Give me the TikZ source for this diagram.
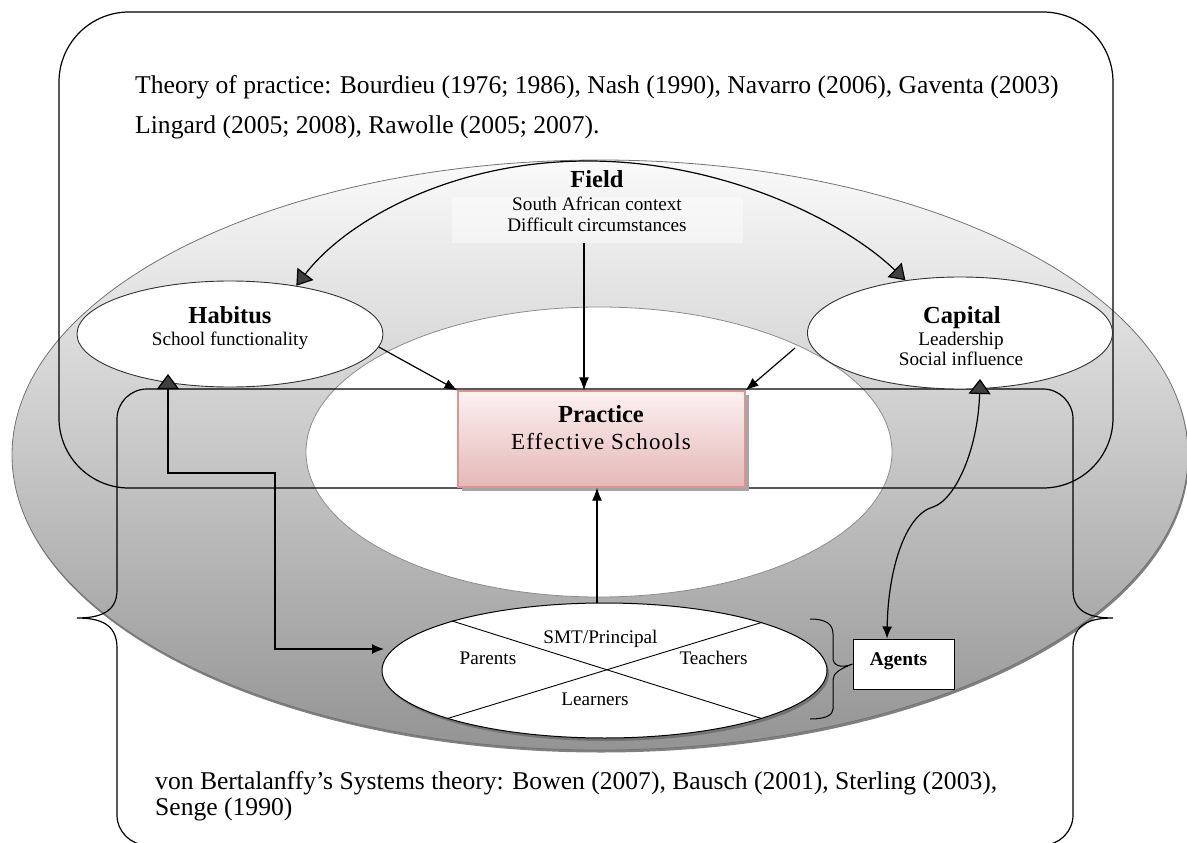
\documentclass[tikz,border=0pt]{standalone}
\usepackage{fontspec}
\setmainfont{Liberation Serif}
\usetikzlibrary{shapes.geometric,arrows.meta}
\definecolor{pinktop}{HTML}{FCF1F1}
\definecolor{pinkbot}{HTML}{E5B8B7}
\definecolor{pinkline}{HTML}{D99694}
\newcommand\fBig{\fontsize{25.6}{30}\selectfont}
\newcommand\fTitle{\fontsize{24.5}{28}\selectfont\bfseries}
\newcommand\fSmall{\fontsize{19.2}{22}\selectfont}
\newcommand\fSmallB{\fontsize{19.4}{22}\selectfont\bfseries}
\newcommand\fEff{\fontsize{23}{27}\selectfont\addfontfeature{LetterSpace=5}}
\begin{document}
\begin{tikzpicture}[x=1pt,y=-1pt,
  ln/.style={line width=1.2pt,draw=black},
  txt/.style={anchor=base,inner sep=0pt},
  lefttxt/.style={anchor=base west,inner sep=0pt},
  normarrow/.style={ln,-{Latex[length=13pt,width=10pt]}},
  triarrow/.style={ln,-{Triangle[length=15pt,width=20pt,fill=black!75]}},
  whiteell/.style={ellipse,inner sep=0pt,fill=white}]
\useasboundingbox (0,0) rectangle (1187,843);

% big gray ellipse with shadow
\node[ellipse,inner sep=0pt,minimum width=1176pt,minimum height=590pt,fill=black!50] (bigshadow) at (601,457.5) {};
\node[ellipse,inner sep=0pt,minimum width=1176pt,minimum height=590pt,draw=black!55,line width=0.8pt,top color=black!2,bottom color=black!42] (big) at (600,455) {};

% inner white ellipse
\node[whiteell,minimum width=586pt,minimum height=290pt,draw=black!45,line width=0.8pt] (inner) at (599,452) {};

% top rounded rectangle
\node[ln,rounded corners=70pt,minimum width=1054pt,minimum height=476pt,inner sep=0pt] (toprect) at (586,250) {};

% bottom rectangle with braces on both sides
\draw[ln] (147,389) -- (1043,389) .. controls (1059.5,389) and (1073,402.5) .. (1073,419)
  -- (1073,590) .. controls (1073,612) and (1090,618) .. (1113,618)
  .. controls (1090,618) and (1073,624) .. (1073,648)
  -- (1073,815) .. controls (1073,831.5) and (1059.5,845) .. (1043,845)
  -- (147,845) .. controls (130.5,845) and (117,831.5) .. (117,815)
  -- (117,648) .. controls (117,624) and (100,618) .. (77,618)
  .. controls (100,618) and (117,612) .. (117,590)
  -- (117,419) .. controls (117,402.5) and (130.5,389) .. (147,389) -- cycle;

% Habitus and Capital
\node[whiteell,draw=black!80,line width=0.9pt,minimum width=306pt,minimum height=106pt] (habitus) at (230,334) {};
\node[whiteell,draw=black!80,line width=0.9pt,minimum width=305pt,minimum height=112pt] (capital) at (960,333) {};
\node[txt,font=\fTitle] (habt) at (230,323) {Habitus};
\node[txt,font=\fSmall] (habs) at (230,345) {School functionality};
\node[txt,font=\fTitle] (capt) at (962,323) {Capital};
\node[txt,font=\fSmall] (caps1) at (961,345) {Leadership};
\node[txt,font=\fSmall] (caps2) at (961,365) {Social influence};

% Field
\node[fill=white,fill opacity=0.45,inner sep=0pt,minimum width=291pt,minimum height=46pt] (fieldbox) at (597.5,220) {};
\node[txt,font=\fTitle] (fieldt) at (597,187) {Field};
\node[txt,font=\fSmall] (fields1) at (597,210) {South African context};
\node[txt,font=\fSmall] (fields2) at (597,231) {Difficult circumstances};

% Practice box
\node[fill=black!35,inner sep=0pt,minimum width=287pt,minimum height=96pt] (practiceshadow) at (605,443) {};
\node[draw=pinkline,line width=1.2pt,top color=pinktop,bottom color=pinkbot,inner sep=0pt,minimum width=287pt,minimum height=96pt] (practice) at (601.5,439) {};
\node[txt,font=\fTitle] (pract) at (601,422) {Practice};
\node[txt,font=\fEff] (pracs) at (601,449) {Effective Schools};

% theory texts
\node[lefttxt,font=\fBig] (theory1) at (135,93) {Theory of practice: Bourdieu (1976; 1986), Nash (1990), Navarro (2006), Gaventa (2003)};
\node[lefttxt,font=\fBig] (theory2) at (135,133) {Lingard (2005; 2008), Rawolle (2005; 2007).};
\node[lefttxt,font=\fBig] (systems1) at (155,789) {von Bertalanffy’s Systems theory: Bowen (2007), Bausch (2001), Sterling (2003),};
\node[lefttxt,font=\fBig] (systems2) at (155,815) {Senge (1990)};

% Agents ellipse
\node[ellipse,inner sep=0pt,minimum width=445pt,minimum height=135pt,fill=black!55] (agshadow) at (606.5,673.5) {};
\node[whiteell,draw=black,line width=1pt,minimum width=445pt,minimum height=135pt] (agents) at (604.5,670.5) {};
\draw[line width=0.9pt] (agents.162.8) -- (agents.-17.2);
\draw[line width=0.9pt] (agents.17.2) -- (agents.197.2);
\node[txt,font=\fSmall] (smt) at (600.5,643) {SMT/Principal};
\node[txt,font=\fSmall] (parents) at (488,664) {Parents};
\node[txt,font=\fSmall] (teachers) at (713.5,664) {Teachers};
\node[txt,font=\fSmall] (learners) at (595,705) {Learners};

% Agents box and small brace
\node[draw=black,line width=1pt,fill=white,inner sep=0pt,minimum width=101pt,minimum height=50pt] (agbox) at (903.5,664) {};
\node[txt,font=\fSmallB] (agt) at (898.5,665) {Agents};
\draw[line width=1pt] (810,619) .. controls (826,619) and (833,624) .. (833,634)
  -- (833,658) .. controls (833,665) and (840,669) .. (agbox.west)
  .. controls (840,669) and (833,673) .. (833,680)
  -- (833,709) .. controls (833,715) and (826,719) .. (810,719);

% coordinates
\coordinate (ftop) at (588,161);
\coordinate (fx) at (584,0);
\coordinate (ax) at (597,0);
\coordinate (habin) at (168,374);
\coordinate (agin) at (384,649);
\coordinate (capin) at (980,379);

% Field arrows
\draw[triarrow] (ftop) .. controls (450,161) and (345,222) .. (habitus.36);
\draw[triarrow] (ftop) .. controls (725,161) and (845,222) .. (capital.136.6);
\draw[normarrow] (fieldbox.south -| fx) -- (practice.north -| fx);

% to practice
\draw[normarrow] (habitus.-5) -- (practice.north west);
\draw[normarrow] ([shift={(-12,15)}]capital.west) -- (practice.north east);
\draw[normarrow] (agents.north -| ax) -- (practice.south -| ax);

% Habitus <-> Agents
\draw[ln,{Triangle[length=15pt,width=22pt,fill=black!75]}-{Latex[length=12pt,width=10pt]}] (habin) -- (168,473) -- (275,473) -- (275,649) -- (agin);

% Capital <-> Agents
\draw[ln,{Latex[length=12pt,width=10pt]}-{Triangle[length=15pt,width=22pt,fill=black!75]}] (agbox.north -| 887,0) .. controls (888,570) and (905,515) .. (933,507) .. controls (955,500) and (978,450) .. (capin);

\end{tikzpicture}
\end{document}
